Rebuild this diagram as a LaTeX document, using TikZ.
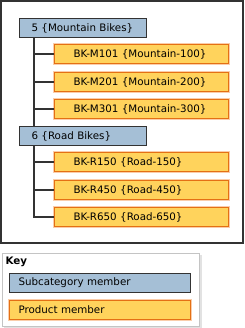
\documentclass[tikz,border=0pt]{standalone}
\usepackage{fontspec}
\setmainfont{DejaVu Sans}

\definecolor{subfill}{RGB}{165,191,214}
\definecolor{subline}{RGB}{51,51,51}
\definecolor{prodfill}{RGB}{255,211,92}
\definecolor{prodline}{RGB}{228,112,20}
\definecolor{prodglow}{RGB}{250,205,170}
\definecolor{keyline}{RGB}{196,196,196}
\definecolor{keyshadow}{RGB}{226,226,226}

\tikzset{
  subbox/.style={draw=subline, fill=subfill, line width=1pt, anchor=north west,
    minimum height=19pt, inner xsep=12pt, text width=103pt, align=left},
  prodbox/.style={draw=prodline, fill=prodfill, line width=1pt,
    preaction={draw=prodglow, line width=3pt}, anchor=north west,
    minimum height=19pt, inner xsep=19pt, text width=136pt, align=left},
  branch/.style={draw=subline, line width=1.2pt},
}

\begin{document}
\begin{tikzpicture}[x=1pt, y=-1pt, font=\fontsize{10.3}{12}\selectfont]

\useasboundingbox (0,0) rectangle (245,328);

% Cadre
\draw[subline, line width=1.6pt] (1,1) rectangle (243,243);

% Sous-categories
\node[subbox] (mtb) at (19,18) {5 \{Mountain Bikes\}};
\node[subbox] (road) at (19,126) {6 \{Road Bikes\}};

% Produits
\node[prodbox] (m101) at (54,44) {BK-M101 \{Mountain-100\}};
\node[prodbox] (m201) at (54,72) {BK-M201 \{Mountain-200\}};
\node[prodbox] (m301) at (54,99) {BK-M301 \{Mountain-300\}};
\node[prodbox] (r150) at (54,152) {BK-R150 \{Road-150\}};
\node[prodbox] (r450) at (54,180) {BK-R450 \{Road-450\}};
\node[prodbox] (r650) at (54,207) {BK-R650 \{Road-650\}};

% Liens
\draw[branch] ([xshift=15pt]mtb.south west) -- ([xshift=15pt]road.north west);
\foreach \p in {m101,m201,m301}
  \draw[branch] ([xshift=15pt]mtb.south west) |- (\p.west);
\foreach \p in {r150,r450,r650}
  \draw[branch] ([xshift=15pt]road.south west) |- (\p.west);

% Legende
\fill[keyshadow] (4,255) rectangle (202,330);
\draw[keyline, fill=white] (2,253) rectangle (199,326);
\node[font=\fontsize{10.3}{12}\selectfont\bfseries, anchor=west] (key) at (2,262) {Key};
\node[subbox, text width=163pt, inner xsep=9pt] (keysub) at (9,273) {Subcategory member};
\node[prodbox, text width=163pt, inner xsep=9pt] (keyprod) at (9,300) {Product member};

\end{tikzpicture}
\end{document}
